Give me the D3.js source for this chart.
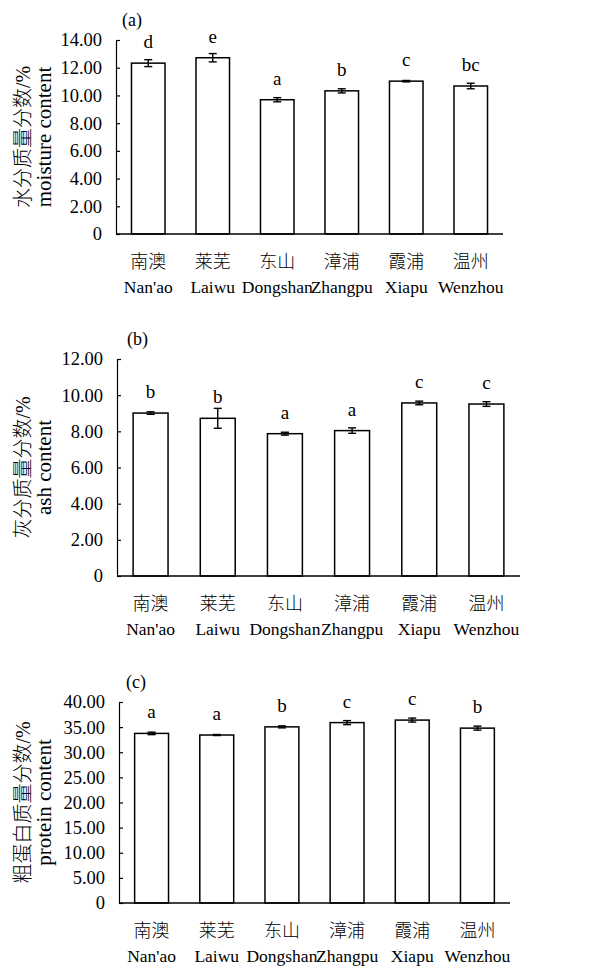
<!DOCTYPE html>
<html>
<head>
<meta charset="utf-8">
<script src="https://cdn.jsdelivr.net/npm/d3@7"></script>
<style>
  body { margin: 0; background: #fff; }
  svg text { font-family: "Liberation Serif", "Noto Sans CJK SC", serif; fill: #000; }
</style>
</head>
<body>
<svg id="chart"></svg>
<script>
const categoriesCn = ['南澳', '莱芜', '东山', '漳浦', '霞浦', '温州'];
const categoriesEn = ["Nan'ao", 'Laiwu', 'Dongshan', 'Zhangpu', 'Xiapu', 'Wenzhou'];

const moistureMean = [12.33, 12.72, 9.69, 10.33, 11.03, 10.68];
const moistureErr = [0.25, 0.30, 0.15, 0.15, 0.05, 0.20];
const moistureLetters = ['d', 'e', 'a', 'b', 'c', 'bc'];
const moistureTicks = [0, 2, 4, 6, 8, 10, 12, 14];

const ashMean = [9.01, 8.72, 7.87, 8.04, 9.57, 9.51];
const ashErr = [0.07, 0.55, 0.08, 0.15, 0.10, 0.13];
const ashLetters = ['b', 'b', 'a', 'a', 'c', 'c'];
const ashTicks = [0, 2, 4, 6, 8, 10, 12];

const proteinMean = [33.75, 33.43, 35.05, 35.90, 36.40, 34.80];
const proteinErr = [0.25, 0.10, 0.20, 0.40, 0.40, 0.40];
const proteinLetters = ['a', 'a', 'b', 'c', 'c', 'b'];
const proteinTicks = [0, 5, 10, 15, 20, 25, 30, 35, 40];

const width = 609;
const height = 967;

const svg = d3.select('#chart')
    .attr('width', width)
    .attr('height', height);

function drawPanel(opt) {
    const g = svg.append('g');
    const rows = categoriesEn.map((en, i) => ({
        en: en, cn: categoriesCn[i],
        mean: opt.mean[i], err: opt.err[i], letter: opt.letters[i]
    }));

    const x = d3.scaleBand()
        .domain(categoriesEn)
        .range([opt.left, opt.right])
        .paddingInner(0.48)
        .paddingOuter(0.24);

    const y = d3.scaleLinear()
        .domain([0, d3.max(opt.ticks)])
        .range([opt.bottom, opt.top]);

    // y axis, ticks pointing inward
    const yAxis = d3.axisLeft(y)
        .tickValues(opt.ticks)
        .tickSizeInner(-4)
        .tickSizeOuter(0)
        .tickPadding(14)
        .tickFormat(d => d === 0 ? '0' : d.toFixed(2));

    const ya = g.append('g')
        .attr('transform', `translate(${opt.left},0)`)
        .call(yAxis);
    ya.select('.domain').attr('stroke', '#000').attr('stroke-width', 1.2);
    ya.selectAll('.tick line').attr('stroke', '#000').attr('stroke-width', 1.2);
    ya.selectAll('.tick text')
        .attr('font-size', 18.5)
        .attr('fill', '#000');

    // bars
    g.selectAll('.bar')
        .data(rows)
        .enter()
        .append('rect')
            .classed('bar', true)
            .attr('x', d => x(d.en))
            .attr('width', x.bandwidth())
            .attr('y', d => y(d.mean))
            .attr('height', d => y(0) - y(d.mean))
            .attr('fill', '#fff')
            .attr('stroke', '#000')
            .attr('stroke-width', 1.5);

    // x axis line
    g.append('line')
        .attr('x1', opt.left).attr('x2', opt.right)
        .attr('y1', y(0)).attr('y2', y(0))
        .attr('stroke', '#000')
        .attr('stroke-width', 1.3);

    // error bars
    const cap = 4;
    const eb = g.selectAll('.err')
        .data(rows)
        .enter()
        .append('g')
            .classed('err', true)
            .attr('stroke', '#000')
            .attr('stroke-width', 1.4);
    eb.append('line')
        .attr('x1', d => x(d.en) + x.bandwidth() / 2)
        .attr('x2', d => x(d.en) + x.bandwidth() / 2)
        .attr('y1', d => y(d.mean - d.err))
        .attr('y2', d => y(d.mean + d.err));
    eb.append('line')
        .attr('x1', d => x(d.en) + x.bandwidth() / 2 - cap)
        .attr('x2', d => x(d.en) + x.bandwidth() / 2 + cap)
        .attr('y1', d => y(d.mean + d.err))
        .attr('y2', d => y(d.mean + d.err));
    eb.append('line')
        .attr('x1', d => x(d.en) + x.bandwidth() / 2 - cap)
        .attr('x2', d => x(d.en) + x.bandwidth() / 2 + cap)
        .attr('y1', d => y(d.mean - d.err))
        .attr('y2', d => y(d.mean - d.err));

    // significance letters
    g.selectAll('.letter')
        .data(rows)
        .enter()
        .append('text')
            .classed('letter', true)
            .attr('x', d => x(d.en) + x.bandwidth() / 2)
            .attr('y', d => y(d.mean) - 15)
            .attr('text-anchor', 'middle')
            .attr('font-size', 19)
            .text(d => d.letter);

    // category labels
    g.selectAll('.cn')
        .data(rows)
        .enter()
        .append('text')
            .attr('x', d => x(d.en) + x.bandwidth() / 2)
            .attr('y', y(0) + 34)
            .attr('text-anchor', 'middle')
            .attr('font-size', 18)
            .attr('font-family', '"Noto Sans CJK SC", sans-serif')
            .attr('font-weight', 300)
            .text(d => d.cn);
    g.selectAll('.en')
        .data(rows)
        .enter()
        .append('text')
            .attr('x', d => x(d.en) + x.bandwidth() / 2)
            .attr('y', y(0) + 59)
            .attr('text-anchor', 'middle')
            .attr('font-size', 17.5)
            .text(d => d.en);

    // axis titles
    const mid = (opt.top + opt.bottom) / 2;
    g.append('text')
        .attr('transform', `translate(30,${mid}) rotate(-90)`)
        .attr('text-anchor', 'middle')
        .attr('font-size', 20)
        .attr('font-weight', 300)
        .text(opt.titleCn);
    g.append('text')
        .attr('transform', `translate(51,${mid}) rotate(-90)`)
        .attr('text-anchor', 'middle')
        .attr('font-size', 21)
        .text(opt.titleEn);

    // panel label
    g.append('text')
        .attr('x', opt.left + opt.labelDx)
        .attr('y', opt.top - 14)
        .attr('font-size', 18)
        .text(opt.panel);
}

drawPanel({
    mean: moistureMean, err: moistureErr, letters: moistureLetters, ticks: moistureTicks,
    left: 116, right: 503, top: 40, bottom: 234,
    titleCn: '水分质量分数/%', titleEn: 'moisture content', panel: '(a)', labelDx: 6
});

drawPanel({
    mean: ashMean, err: ashErr, letters: ashLetters, ticks: ashTicks,
    left: 117, right: 520, top: 359, bottom: 576,
    titleCn: '灰分质量分数/%', titleEn: 'ash content', panel: '(b)', labelDx: 10
});

drawPanel({
    mean: proteinMean, err: proteinErr, letters: proteinLetters, ticks: proteinTicks,
    left: 119, right: 510, top: 702, bottom: 903,
    titleCn: '粗蛋白质量分数/%', titleEn: 'protein content', panel: '(c)', labelDx: 7
});
</script>
</body>
</html>
